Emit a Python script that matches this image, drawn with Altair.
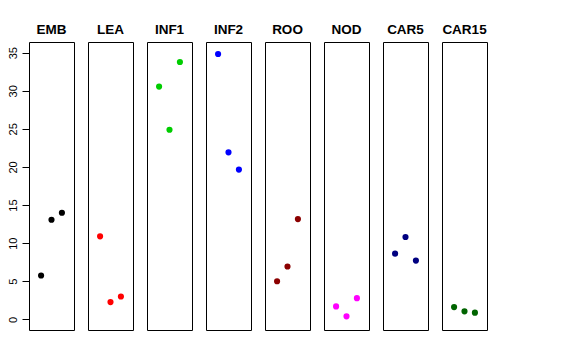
import altair as alt
import pandas as pd

panels = ["EMB", "LEA", "INF1", "INF2", "ROO", "NOD", "CAR5", "CAR15"]
colors = ["#000000", "#FF0000", "#00CD00", "#0000FF", "#8B0000", "#FF00FF", "#000080", "#006400"]
positions = [1, 2, 3]
emb = [5.75, 13.07, 13.99]
lea = [10.89, 2.26, 3.0]
inf1 = [30.55, 24.88, 33.77]
inf2 = [34.82, 21.92, 19.65]
roo = [5.0, 6.93, 13.16]
nod = [1.70, 0.39, 2.78]
car5 = [8.63, 10.81, 7.71]
car15 = [1.61, 1.05, 0.88]
series = [emb, lea, inf1, inf2, roo, nod, car5, car15]
y_ticks = [0, 5, 10, 15, 20, 25, 30, 35]

charts = []
for i, (name, col, vals) in enumerate(zip(panels, colors, series)):
    df = pd.DataFrame({"pos": positions, "value": vals})
    if i == 0:
        yaxis = alt.Axis(values=y_ticks, labelAngle=-90, labelAlign="center",
                         labelBaseline="bottom", tickSize=7, domain=False, grid=False,
                         labelFontSize=11, labelPadding=4, title=None,
                         tickColor="#000000", labelColor="#000000",
                         labelFont="Liberation Sans")
    else:
        yaxis = None
    c = alt.Chart(df).mark_circle(size=38, opacity=1, color=col).encode(
        x=alt.X("pos:Q", scale=alt.Scale(domain=[-0.16, 4.16], nice=False, zero=False), axis=None),
        y=alt.Y("value:Q", scale=alt.Scale(domain=[-1.4, 36.4], nice=False, zero=False), axis=yaxis),
    ).properties(
        width=45, height=288,
        title=alt.TitleParams(name, fontSize=13.5, fontWeight="bold", font="Liberation Sans",
                              offset=6, anchor="middle", color="#000000"),
    )
    charts.append(c)

chart = alt.hconcat(*charts, spacing=12).properties(
    padding={"left": -2, "top": 14, "right": 5, "bottom": 5}
).configure_view(stroke="#000000", strokeWidth=1).configure_concat(spacing=12)

chart.save("out.html", embed_options={"renderer": "svg", "actions": False})
